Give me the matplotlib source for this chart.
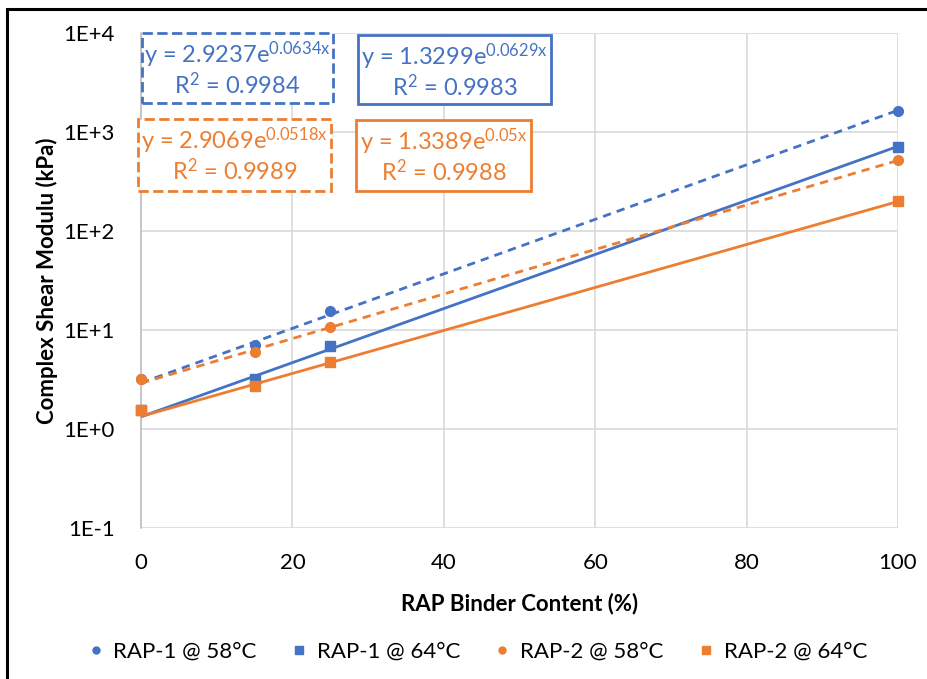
import numpy as np
import matplotlib
matplotlib.use("Agg")
import matplotlib.pyplot as plt
from matplotlib.patches import Rectangle
from matplotlib.lines import Line2D

plt.rcParams['font.family'] = ['Lato', 'DejaVu Sans']
plt.rcParams['mathtext.fontset'] = 'custom'
plt.rcParams['mathtext.rm'] = 'Lato'
plt.rcParams['mathtext.it'] = 'Lato'

# Data
x_vals = [0, 15, 25, 100]
series_names = ["RAP-1 @ 58°C", "RAP-1 @ 64°C", "RAP-2 @ 58°C", "RAP-2 @ 64°C"]
rap1_58 = [3.2, 7.1, 15.5, 1620]
rap1_64 = [1.55, 3.2, 6.9, 710]
rap2_58 = [3.2, 6.0, 10.7, 525]
rap2_64 = [1.55, 2.75, 4.8, 200]
# Exponential trendline coefficients (a, b) for y = a*exp(b*x)
trend_a = [2.9237, 1.3299, 2.9069, 1.3389]
trend_b = [0.0634, 0.0629, 0.0518, 0.05]
trend_r2 = ["0.9984", "0.9983", "0.9989", "0.9988"]
eq_exp_text = ["0.0634x", "0.0629x", "0.0518x", "0.05x"]
eq_a_text = ["2.9237", "1.3299", "2.9069", "1.3389"]
x_ticks = [0, 20, 40, 60, 80, 100]
y_ticks = [0.1, 1, 10, 100, 1000, 10000]
y_tick_labels = ["1E-1", "1E+0", "1E+1", "1E+2", "1E+3", "1E+4"]

BLUE = "#4472C4"
ORANGE = "#ED7D31"
colors = [BLUE, BLUE, ORANGE, ORANGE]
markers = ["o", "s", "o", "s"]
styles = [(0, (3, 2.2)), "-", (0, (3, 2.2)), "-"]
data = [rap1_58, rap1_64, rap2_58, rap2_64]

W, H = 928, 679
fig = plt.figure(figsize=(W / 100, H / 100), dpi=100)
ax = fig.add_axes([141 / W, 1 - 528 / H, (898 - 141) / W, (528 - 33) / H])

xx = np.linspace(0, 100, 200)
for i in range(4):
    ax.plot(xx, trend_a[i] * np.exp(trend_b[i] * xx), color=colors[i],
            linestyle=styles[i], lw=2.0, zorder=3)
for i in range(4):
    ax.plot(x_vals, data[i], linestyle="none", marker=markers[i],
            color=colors[i], markersize=7 if markers[i] == "o" else 7.5,
            zorder=4, clip_on=False)

ax.set_yscale("log")
ax.set_ylim(0.1, 10000)
ax.set_xlim(0, 100)
ax.set_xticks(x_ticks)
ax.set_yticks(y_ticks)
ax.set_yticklabels(y_tick_labels)
ax.yaxis.set_minor_locator(matplotlib.ticker.NullLocator())
ax.grid(True, color="#D9D9D9", lw=1.2)
ax.set_axisbelow(True)
for s in ["top", "right", "bottom"]:
    ax.spines[s].set_visible(False)
ax.spines["left"].set_color("#BFBFBF")
ax.spines["left"].set_linewidth(1.2)
ax.tick_params(length=0, labelsize=16)
ax.tick_params(axis="y", pad=19)
ax.tick_params(axis="x", pad=18)
ax.set_xlabel("RAP Binder Content (%)", fontsize=16, fontweight="bold", labelpad=14)
ax.set_ylabel("Complex Shear Modulu (kPa)", fontsize=16, fontweight="bold", labelpad=4)

# Equation boxes (pixel rects: x0, y0, x1, y1)
boxes = [(142, 33, 333, 103), (358, 35, 551, 104), (138, 119, 331, 191), (356, 120, 531, 191)]
box_ls = ["--", "-", "--", "-"]
for i, (x0, y0, x1, y1) in enumerate(boxes):
    rect = Rectangle((x0 / W, 1 - y1 / H), (x1 - x0) / W, (y1 - y0) / H,
                     transform=fig.transFigure, fill=True, facecolor="white",
                     edgecolor=colors[i], lw=2.0, linestyle=box_ls[i], zorder=5)
    fig.patches.append(rect)
    cx = (x0 + x1) / 2 / W
    fig.text(cx, 1 - (y0 + 22) / H, "y = " + eq_a_text[i] + "e$^{" + eq_exp_text[i] + "}$",
             ha="center", va="center", fontsize=17, color=colors[i], zorder=6)
    fig.text(cx, 1 - (y0 + 52) / H, "R$^{2}$ = " + trend_r2[i],
             ha="center", va="center", fontsize=17, color=colors[i], zorder=6)

# Legend
handles = [Line2D([], [], linestyle="none", marker=markers[i], color=colors[i],
                  markersize=5 if markers[i] == "o" else 6) for i in range(4)]
fig.legend(handles, series_names, loc="center", bbox_to_anchor=(0.515, 1 - 652 / H),
           ncol=4, frameon=False, fontsize=16, handlelength=0.6, handletextpad=0.5,
           columnspacing=1.6)

# Outer chart border
border = Rectangle((7 / W, -0.05), 1.1, 1 - 9 / H + 0.05, transform=fig.transFigure,
                   fill=False, edgecolor="black", lw=2.2)
fig.patches.append(border)

fig.savefig("out.png", dpi=100, facecolor="white")
